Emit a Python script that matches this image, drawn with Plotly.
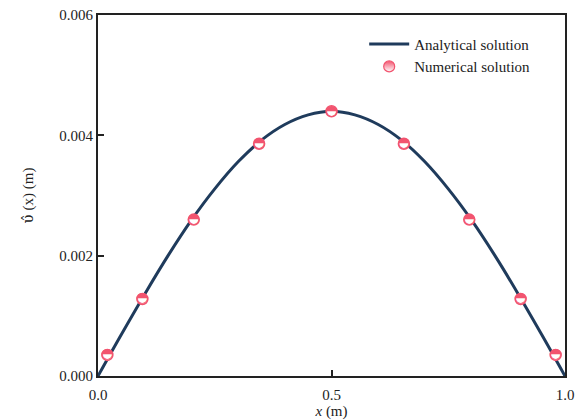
import plotly.graph_objects as go

# Analytical solution
x_ana = [0.0, 0.05, 0.1, 0.15, 0.2, 0.25, 0.3, 0.35, 0.4, 0.45, 0.5,
         0.55, 0.6, 0.65, 0.7, 0.75, 0.8, 0.85, 0.9, 0.95, 1.0]
y_ana = [0.0, 0.00069, 0.00136, 0.00200, 0.00259, 0.00311, 0.00356, 0.00392, 0.00418, 0.00434, 0.00440,
         0.00434, 0.00418, 0.00392, 0.00356, 0.00311, 0.00259, 0.00200, 0.00136, 0.00069, 0.0]

# Numerical solution points
x_num = [0.02, 0.095, 0.205, 0.345, 0.5, 0.655, 0.795, 0.905, 0.98]
y_num = [0.00035, 0.00128, 0.0026, 0.00386, 0.0044, 0.00386, 0.0026, 0.00128, 0.00035]

x_ticks = [0.0, 0.5, 1.0]
x_ticktext = ["0.0", "0.5", "1.0"]
y_ticks = [0.0, 0.002, 0.004, 0.006]
y_ticktext = ["0.000", "0.002", "0.004", "0.006"]

NAVY = "#1f3b5c"
RED = "#f2546f"
FONT = "Liberation Serif"

fig = go.Figure()
fig.add_trace(go.Scatter(
    x=x_ana, y=y_ana, mode="lines", name="Analytical solution",
    line=dict(color=NAVY, width=3, shape="spline"),
))
# white disc under the half-filled glyph
fig.add_trace(go.Scatter(
    x=x_num, y=y_num, mode="markers", name="Numerical solution",
    marker=dict(symbol="circle", size=11, color="white",
                line=dict(color=RED, width=1.5)),
    showlegend=False,
))
fig.add_trace(go.Scatter(
    x=x_num, y=y_num, mode="text", text=["◓"] * len(x_num),
    textposition="middle center",
    textfont=dict(family="DejaVu Sans", size=14, color=RED),
    showlegend=False, hoverinfo="skip",
))
# legend entry
fig.add_trace(go.Scatter(
    x=[None], y=[None], mode="markers", name="Numerical solution",
    marker=dict(symbol="circle", size=11, color=RED,
                gradient=dict(type="vertical", color="white"),
                line=dict(color=RED, width=1.2)),
))

fig.update_layout(
    width=583, height=420,
    margin=dict(l=98, r=18, t=15, b=44),
    paper_bgcolor="white", plot_bgcolor="white",
    font=dict(family=FONT, size=14, color="#222"),
    showlegend=True,
    legend=dict(x=0.57, y=0.965, xanchor="left", yanchor="top",
                bgcolor="rgba(0,0,0,0)", font=dict(family=FONT, size=15),
                itemwidth=40, tracegroupgap=0),
    xaxis=dict(range=[0, 1], tickvals=x_ticks, ticktext=x_ticktext,
               ticks="inside", ticklen=6, tickwidth=1.5, tickcolor="#222",
               showline=True, linecolor="#222", linewidth=2, mirror=True,
               showgrid=False, zeroline=False, ticklabelstandoff=4,
               automargin=False,
               title=dict(text="<i>x</i> (m)", standoff=0, font=dict(size=15)),
               tickfont=dict(size=15)),
    yaxis=dict(range=[0, 0.006], tickvals=y_ticks, ticktext=y_ticktext,
               ticks="inside", ticklen=6, tickwidth=1.5, tickcolor="#222",
               showline=True, linecolor="#222", linewidth=2, mirror=True,
               showgrid=False, zeroline=False, automargin=False,
               title=dict(text="<span style=\"font-family:'DejaVu Serif'\">υ̂</span> (x) (m)",
                          standoff=22, font=dict(size=15)),
               tickfont=dict(size=15)),
)

fig.write_html("out.html")
